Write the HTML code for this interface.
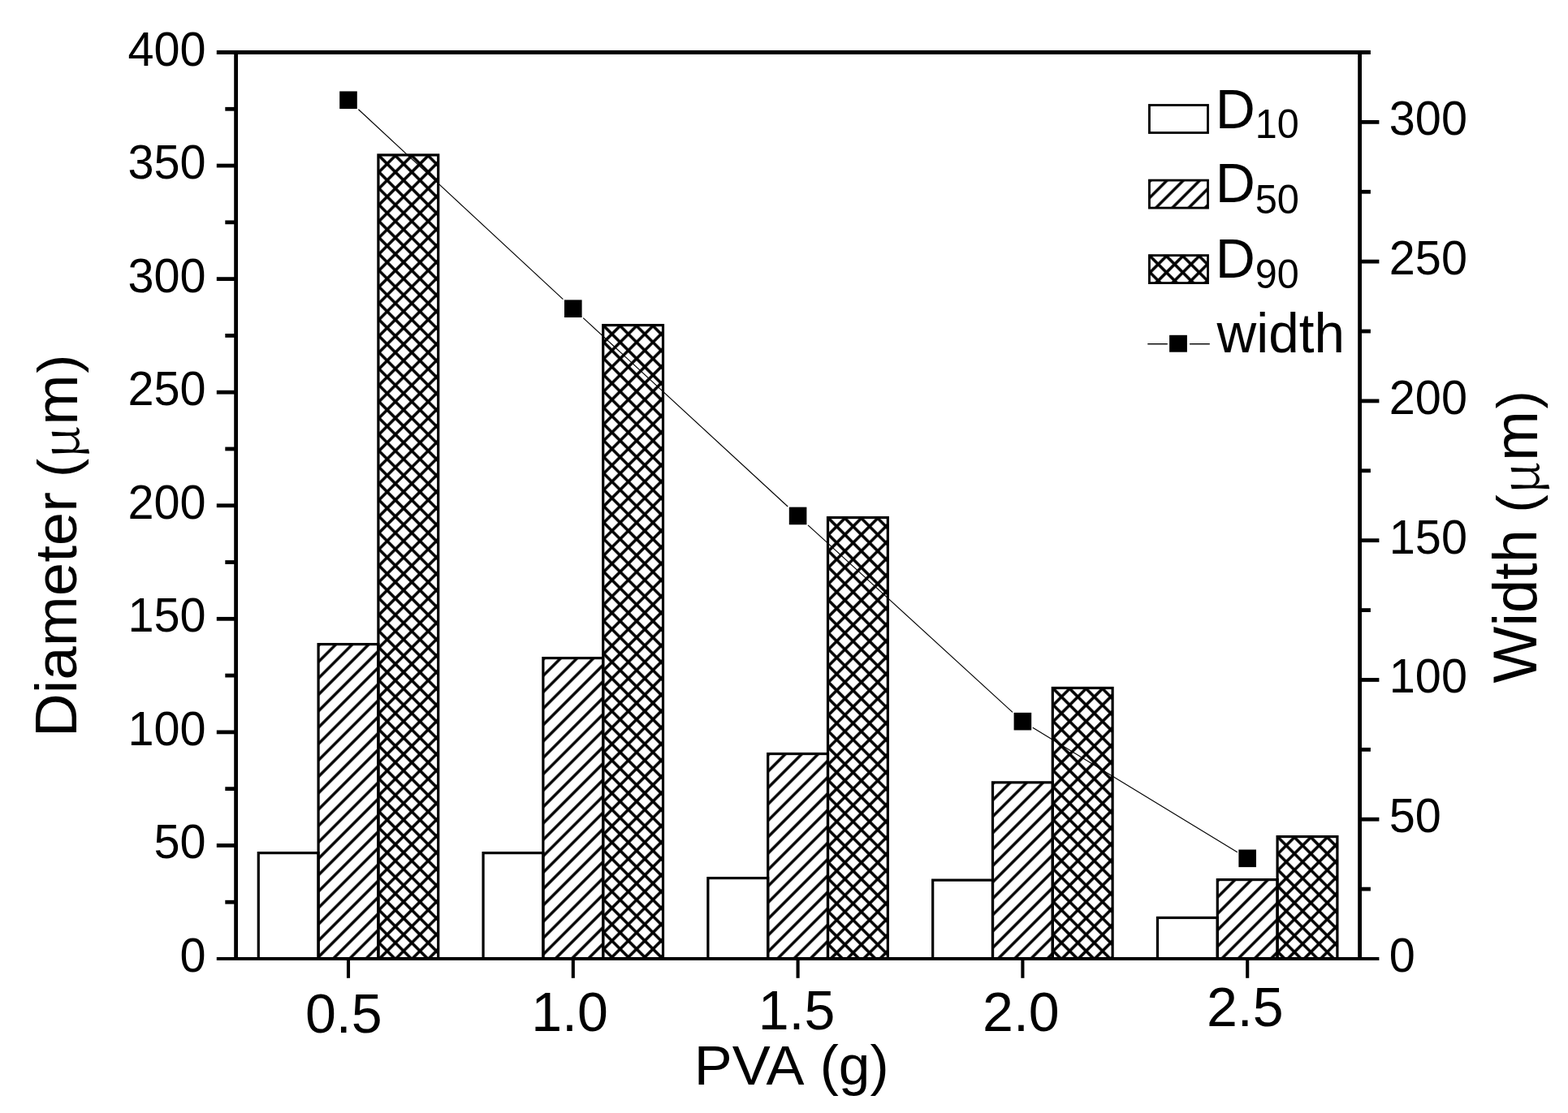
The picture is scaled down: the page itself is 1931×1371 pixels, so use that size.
<!DOCTYPE html><html><head><meta charset="utf-8"><title>PVA chart</title><style>html,body{margin:0;padding:0;background:#fff;overflow:hidden}svg{display:block}text{font-family:"Liberation Sans",Arial,sans-serif;fill:#000}.s{font-family:"Noto Serif CJK SC","Liberation Serif",serif}</style></head><body>
<svg width="1931" height="1371" viewBox="0 0 1931 1371">
<defs>
<pattern id="p0" patternUnits="userSpaceOnUse" width="14.2836" height="14.2836" patternTransform="translate(392.89,794.37) rotate(-45)"><rect x="-1" y="-1.700" width="16.284" height="3.4"/><rect x="-1" y="12.584" width="16.284" height="3.4"/></pattern><pattern id="p1" patternUnits="userSpaceOnUse" width="14.2836" height="14.2836" patternTransform="translate(466.71,191.74) rotate(-45)"><rect x="-1" y="-1.750" width="16.284" height="3.5"/><rect x="-1" y="12.534" width="16.284" height="3.5"/><rect x="-1.750" y="-1" width="3.5" height="16.284"/><rect x="12.534" y="-1" width="3.5" height="16.284"/></pattern><pattern id="p2" patternUnits="userSpaceOnUse" width="14.2836" height="14.2836" patternTransform="translate(669.69,811.40) rotate(-45)"><rect x="-1" y="-1.700" width="16.284" height="3.4"/><rect x="-1" y="12.584" width="16.284" height="3.4"/></pattern><pattern id="p3" patternUnits="userSpaceOnUse" width="14.2836" height="14.2836" patternTransform="translate(743.51,401.37) rotate(-45)"><rect x="-1" y="-1.750" width="16.284" height="3.5"/><rect x="-1" y="12.534" width="16.284" height="3.5"/><rect x="-1.750" y="-1" width="3.5" height="16.284"/><rect x="12.534" y="-1" width="3.5" height="16.284"/></pattern><pattern id="p4" patternUnits="userSpaceOnUse" width="14.2836" height="14.2836" patternTransform="translate(946.49,929.33) rotate(-45)"><rect x="-1" y="-1.700" width="16.284" height="3.4"/><rect x="-1" y="12.584" width="16.284" height="3.4"/></pattern><pattern id="p5" patternUnits="userSpaceOnUse" width="14.2836" height="14.2836" patternTransform="translate(1020.31,638.34) rotate(-45)"><rect x="-1" y="-1.750" width="16.284" height="3.5"/><rect x="-1" y="12.534" width="16.284" height="3.5"/><rect x="-1.750" y="-1" width="3.5" height="16.284"/><rect x="12.534" y="-1" width="3.5" height="16.284"/></pattern><pattern id="p6" patternUnits="userSpaceOnUse" width="14.2836" height="14.2836" patternTransform="translate(1223.29,964.64) rotate(-45)"><rect x="-1" y="-1.700" width="16.284" height="3.4"/><rect x="-1" y="12.584" width="16.284" height="3.4"/></pattern><pattern id="p7" patternUnits="userSpaceOnUse" width="14.2836" height="14.2836" patternTransform="translate(1297.11,848.25) rotate(-45)"><rect x="-1" y="-1.750" width="16.284" height="3.5"/><rect x="-1" y="12.534" width="16.284" height="3.5"/><rect x="-1.750" y="-1" width="3.5" height="16.284"/><rect x="12.534" y="-1" width="3.5" height="16.284"/></pattern><pattern id="p8" patternUnits="userSpaceOnUse" width="14.2836" height="14.2836" patternTransform="translate(1500.09,1084.39) rotate(-45)"><rect x="-1" y="-1.700" width="16.284" height="3.4"/><rect x="-1" y="12.584" width="16.284" height="3.4"/></pattern><pattern id="p9" patternUnits="userSpaceOnUse" width="14.2836" height="14.2836" patternTransform="translate(1573.91,1031.35) rotate(-45)"><rect x="-1" y="-1.750" width="16.284" height="3.5"/><rect x="-1" y="12.534" width="16.284" height="3.5"/><rect x="-1.750" y="-1" width="3.5" height="16.284"/><rect x="12.534" y="-1" width="3.5" height="16.284"/></pattern><pattern id="p10" patternUnits="userSpaceOnUse" width="14.2836" height="14.2836" patternTransform="translate(1416.25,222.90) rotate(-45)"><rect x="-1" y="-1.700" width="16.284" height="3.4"/><rect x="-1" y="12.584" width="16.284" height="3.4"/></pattern><pattern id="p11" patternUnits="userSpaceOnUse" width="14.2836" height="14.2836" patternTransform="translate(1416.25,315.40) rotate(-45)"><rect x="-1" y="-1.750" width="16.284" height="3.5"/><rect x="-1" y="12.534" width="16.284" height="3.5"/><rect x="-1.750" y="-1" width="3.5" height="16.284"/><rect x="12.534" y="-1" width="3.5" height="16.284"/></pattern>
</defs>
<rect width="1931" height="1371" fill="#fff"/>
<rect x="318.28" y="1050.65" width="73.81" height="130.35" fill="none" stroke="#000" stroke-width="3.2"/>
<rect x="392.09" y="793.57" width="73.81" height="387.43" fill="url(#p0)"/>
<rect x="392.09" y="793.57" width="73.81" height="387.43" fill="none" stroke="#000" stroke-width="3.2"/>
<rect x="465.91" y="190.94" width="73.81" height="990.06" fill="url(#p1)"/>
<rect x="465.91" y="190.94" width="73.81" height="990.06" fill="none" stroke="#000" stroke-width="3.2"/>
<rect x="595.08" y="1050.65" width="73.81" height="130.35" fill="none" stroke="#000" stroke-width="3.2"/>
<rect x="668.89" y="810.60" width="73.81" height="370.40" fill="url(#p2)"/>
<rect x="668.89" y="810.60" width="73.81" height="370.40" fill="none" stroke="#000" stroke-width="3.2"/>
<rect x="742.71" y="400.57" width="73.81" height="780.43" fill="url(#p3)"/>
<rect x="742.71" y="400.57" width="73.81" height="780.43" fill="none" stroke="#000" stroke-width="3.2"/>
<rect x="871.88" y="1081.63" width="73.81" height="99.37" fill="none" stroke="#000" stroke-width="3.2"/>
<rect x="945.69" y="928.53" width="73.81" height="252.47" fill="url(#p4)"/>
<rect x="945.69" y="928.53" width="73.81" height="252.47" fill="none" stroke="#000" stroke-width="3.2"/>
<rect x="1019.51" y="637.54" width="73.81" height="543.46" fill="url(#p5)"/>
<rect x="1019.51" y="637.54" width="73.81" height="543.46" fill="none" stroke="#000" stroke-width="3.2"/>
<rect x="1148.68" y="1084.14" width="73.81" height="96.86" fill="none" stroke="#000" stroke-width="3.2"/>
<rect x="1222.49" y="963.84" width="73.81" height="217.16" fill="url(#p6)"/>
<rect x="1222.49" y="963.84" width="73.81" height="217.16" fill="none" stroke="#000" stroke-width="3.2"/>
<rect x="1296.31" y="847.45" width="73.81" height="333.55" fill="url(#p7)"/>
<rect x="1296.31" y="847.45" width="73.81" height="333.55" fill="none" stroke="#000" stroke-width="3.2"/>
<rect x="1425.48" y="1130.48" width="73.81" height="50.52" fill="none" stroke="#000" stroke-width="3.2"/>
<rect x="1499.29" y="1083.59" width="73.81" height="97.41" fill="url(#p8)"/>
<rect x="1499.29" y="1083.59" width="73.81" height="97.41" fill="none" stroke="#000" stroke-width="3.2"/>
<rect x="1573.11" y="1030.55" width="73.81" height="150.45" fill="url(#p9)"/>
<rect x="1573.11" y="1030.55" width="73.81" height="150.45" fill="none" stroke="#000" stroke-width="3.2"/>
<path fill="none" stroke="#000" stroke-width="1.15" d="M441.40,134.76L693.40,368.70M718.20,391.65L970.20,624.03M995.00,646.80L1247.00,877.31M1271.80,896.21L1523.80,1049.77"/>
<rect x="418.20" y="112.45" width="21.6" height="21.6" fill="#000"/>
<rect x="695.00" y="369.41" width="21.6" height="21.6" fill="#000"/>
<rect x="971.80" y="624.66" width="21.6" height="21.6" fill="#000"/>
<rect x="1248.60" y="877.85" width="21.6" height="21.6" fill="#000"/>
<rect x="1525.40" y="1046.53" width="21.6" height="21.6" fill="#000"/>
<g stroke="#000" stroke-width="4.8" fill="none">
<line x1="266.80" y1="64.5" x2="1687.90" y2="64.5" stroke-width="5.0"/>
<line x1="266.80" y1="1181.0" x2="1698.40" y2="1181.0" stroke-width="3.9"/>
<line x1="290.6" y1="62.00" x2="290.6" y2="1182.95"/>
<line x1="1674.6" y1="62.00" x2="1674.6" y2="1182.95"/>
<line x1="277.30" y1="1111.22" x2="290.6" y2="1111.22"/>
<line x1="266.80" y1="1041.44" x2="290.6" y2="1041.44"/>
<line x1="277.30" y1="971.66" x2="290.6" y2="971.66"/>
<line x1="266.80" y1="901.88" x2="290.6" y2="901.88"/>
<line x1="277.30" y1="832.09" x2="290.6" y2="832.09"/>
<line x1="266.80" y1="762.31" x2="290.6" y2="762.31"/>
<line x1="277.30" y1="692.53" x2="290.6" y2="692.53"/>
<line x1="266.80" y1="622.75" x2="290.6" y2="622.75"/>
<line x1="277.30" y1="552.97" x2="290.6" y2="552.97"/>
<line x1="266.80" y1="483.19" x2="290.6" y2="483.19"/>
<line x1="277.30" y1="413.41" x2="290.6" y2="413.41"/>
<line x1="266.80" y1="343.62" x2="290.6" y2="343.62"/>
<line x1="277.30" y1="273.84" x2="290.6" y2="273.84"/>
<line x1="266.80" y1="204.06" x2="290.6" y2="204.06"/>
<line x1="277.30" y1="134.28" x2="290.6" y2="134.28"/>
<line x1="1674.6" y1="1095.12" x2="1687.90" y2="1095.12"/>
<line x1="1674.6" y1="1009.23" x2="1698.40" y2="1009.23"/>
<line x1="1674.6" y1="923.35" x2="1687.90" y2="923.35"/>
<line x1="1674.6" y1="837.46" x2="1698.40" y2="837.46"/>
<line x1="1674.6" y1="751.58" x2="1687.90" y2="751.58"/>
<line x1="1674.6" y1="665.69" x2="1698.40" y2="665.69"/>
<line x1="1674.6" y1="579.81" x2="1687.90" y2="579.81"/>
<line x1="1674.6" y1="493.92" x2="1698.40" y2="493.92"/>
<line x1="1674.6" y1="408.04" x2="1687.90" y2="408.04"/>
<line x1="1674.6" y1="322.15" x2="1698.40" y2="322.15"/>
<line x1="1674.6" y1="236.27" x2="1687.90" y2="236.27"/>
<line x1="1674.6" y1="150.38" x2="1698.40" y2="150.38"/>
<line x1="429.00" y1="1181.0" x2="429.00" y2="1204.80" stroke-width="4.1"/>
<line x1="705.80" y1="1181.0" x2="705.80" y2="1204.80" stroke-width="4.1"/>
<line x1="982.60" y1="1181.0" x2="982.60" y2="1204.80" stroke-width="4.1"/>
<line x1="1259.40" y1="1181.0" x2="1259.40" y2="1204.80" stroke-width="4.1"/>
<line x1="1536.20" y1="1181.0" x2="1536.20" y2="1204.80" stroke-width="4.1"/>
</g>
<text transform="translate(253.65,1197.00) scale(1,1.0214)" font-size="57.63" text-anchor="end">0</text>
<text transform="translate(253.65,1057.44) scale(1,1.0214)" font-size="57.63" text-anchor="end">50</text>
<text transform="translate(253.65,917.88) scale(1,1.0214)" font-size="57.63" text-anchor="end">100</text>
<text transform="translate(253.65,778.31) scale(1,1.0214)" font-size="57.63" text-anchor="end">150</text>
<text transform="translate(253.65,638.75) scale(1,1.0214)" font-size="57.63" text-anchor="end">200</text>
<text transform="translate(253.65,499.19) scale(1,1.0214)" font-size="57.63" text-anchor="end">250</text>
<text transform="translate(253.65,359.62) scale(1,1.0214)" font-size="57.63" text-anchor="end">300</text>
<text transform="translate(253.65,220.06) scale(1,1.0214)" font-size="57.63" text-anchor="end">350</text>
<text transform="translate(253.65,80.50) scale(1,1.0214)" font-size="57.63" text-anchor="end">400</text>
<text transform="translate(1710.79,1197.00) scale(1,1.0214)" font-size="57.63">0</text>
<text transform="translate(1710.79,1025.23) scale(1,1.0214)" font-size="57.63">50</text>
<text transform="translate(1710.79,853.46) scale(1,1.0214)" font-size="57.63">100</text>
<text transform="translate(1710.79,681.69) scale(1,1.0214)" font-size="57.63">150</text>
<text transform="translate(1710.79,509.92) scale(1,1.0214)" font-size="57.63">200</text>
<text transform="translate(1710.79,338.15) scale(1,1.0214)" font-size="57.63">250</text>
<text transform="translate(1710.79,166.38) scale(1,1.0214)" font-size="57.63">300</text>
<text transform="translate(375.93,1271.81) scale(1,1.0071)" font-size="68.15">0.5</text>
<text transform="translate(654.20,1270.11) scale(1,1.0071)" font-size="68.15">1.0</text>
<text transform="translate(933.73,1268.01) scale(1,1.0071)" font-size="68.15">1.5</text>
<text transform="translate(1210.00,1270.01) scale(1,1.0071)" font-size="68.15">2.0</text>
<text transform="translate(1485.93,1263.81) scale(1,1.0071)" font-size="68.15">2.5</text>
<text transform="translate(1496.74,157.80) scale(1,1.0214)"><tspan x="0.00" y="0.00" font-size="67.97">D</tspan><tspan x="49.03" y="11.49" font-size="48.52">10</tspan></text>
<text transform="translate(1496.74,249.00) scale(1,1.0107)"><tspan x="0.00" y="0.00" font-size="67.97">D</tspan><tspan x="48.90" y="13.51" font-size="48.78">50</tspan></text>
<text transform="translate(1496.74,341.90) scale(1,1.0214)"><tspan x="0.00" y="0.00" font-size="67.97">D</tspan><tspan x="49.05" y="12.47" font-size="48.52">90</tspan></text>
<text transform="translate(1498.60,434.42) scale(1,1.0064)"><tspan x="0.00" y="-0.00" font-size="67.44">width</tspan></text>
<text transform="translate(854.83,1335.70) scale(1,0.9774)"><tspan x="-0.00" y="0.00" font-size="70.43">PVA </tspan><tspan x="154.87" y="0.67" font-size="69.48">(g)</tspan></text>
<text transform="translate(93.97,908.01) rotate(-90) scale(1,0.9825)"><tspan x="0.00" y="-0.00" font-size="74.47">Diameter </tspan><tspan x="319.99" y="1.33" font-size="69.58">(</tspan><tspan x="343.01" y="3.12" font-size="64.12" class="s">μ</tspan><tspan x="384.32" y="1.34" font-size="74.86">m</tspan><tspan x="448.17" y="1.06" font-size="68.92">)</tspan></text>
<text transform="translate(1892.35,841.39) rotate(-90) scale(1,1.0174)"><tspan x="0.00" y="0.00" font-size="74.05">Width </tspan><tspan x="209.96" y="-0.04" font-size="66.56">(</tspan><tspan x="232.85" y="2.88" font-size="62.55" class="s">μ</tspan><tspan x="273.34" y="1.11" font-size="74.29">m</tspan><tspan x="337.84" y="-0.04" font-size="66.56">)</tspan></text>
<rect x="1415.45" y="129.5" width="72.05" height="34" fill="none" stroke="#000" stroke-width="2.8"/>
<rect x="1415.45" y="222.1" width="72.05" height="34" fill="url(#p10)"/>
<rect x="1415.45" y="222.1" width="72.05" height="34" fill="none" stroke="#000" stroke-width="2.8"/>
<rect x="1415.45" y="314.6" width="72.05" height="34" fill="url(#p11)"/>
<rect x="1415.45" y="314.6" width="72.05" height="34" fill="none" stroke="#000" stroke-width="2.8"/>
<line x1="1413.3" y1="423.7" x2="1437.8" y2="423.7" stroke="#000" stroke-width="1.4"/>
<line x1="1465" y1="423.7" x2="1489.8" y2="423.7" stroke="#000" stroke-width="1.4"/>
<rect x="1440.1" y="412.8" width="21.8" height="20.9" fill="#000"/>
</svg></body></html>
